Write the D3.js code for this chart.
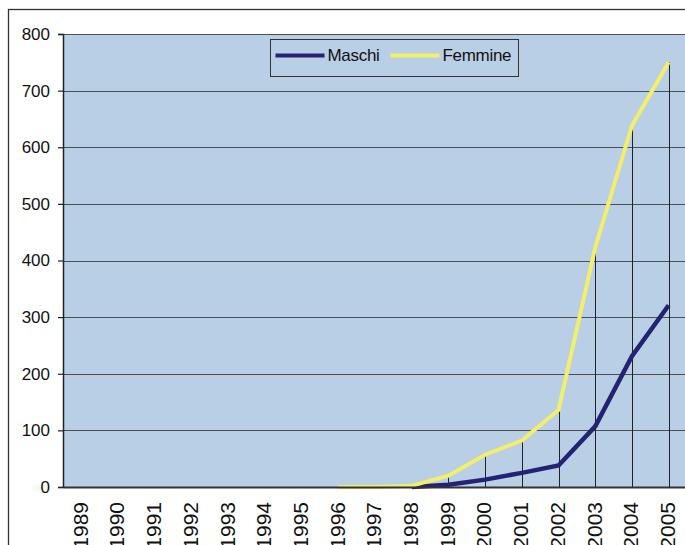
<!DOCTYPE html>
<html>
<head>
<meta charset="utf-8">
<script src="https://cdn.jsdelivr.net/npm/d3@7"></script>
<style>
  body { margin: 0; background: #fff; }
  svg { display: block; font-family: Arial, "Liberation Sans", sans-serif; }
</style>
</head>
<body>
<script>
var years = ["1989", "1990", "1991", "1992", "1993", "1994", "1995", "1996", "1997",
             "1998", "1999", "2000", "2001", "2002", "2003", "2004", "2005"];
// null = no value plotted for that year
var maschi = [null, null, null, null, null, null, null, null, null,
              0, 4, 13, 25, 38, 107, 231, 321];
var femmine = [null, null, null, null, null, null, null, 0, 0,
               2, 20, 57, 82, 136, 423, 638, 750];
var yTicks = [0, 100, 200, 300, 400, 500, 600, 700, 800];

var width = 685, height = 545;
var margin = {left: 63, top: 34, bottom: 58};
var plotRight = 687;

var svg = d3.select("body").append("svg")
    .attr("width", width)
    .attr("height", height);

// outer frame (runs off the right and bottom of the picture)
svg.append("rect")
    .attr("x", 8.5).attr("y", 9.5)
    .attr("width", 700).attr("height", 600)
    .attr("fill", "#fff")
    .attr("stroke", "#333")
    .attr("stroke-width", 1.3);

var x = d3.scaleBand()
    .domain(years)
    .range([margin.left, plotRight]);

var y = d3.scaleLinear()
    .domain([0, 800])
    .range([height - margin.bottom, margin.top]);

var cx = function (d) { return x(d) + x.bandwidth() / 2; };

svg.append("rect")
    .attr("x", margin.left).attr("y", margin.top)
    .attr("width", plotRight - margin.left)
    .attr("height", y(0) - margin.top)
    .attr("fill", "#b9cfe5");

// gridlines
svg.append("g")
    .selectAll("line")
    .data(yTicks.filter(function (d) { return d > 0; }))
    .enter().append("line")
    .attr("x1", margin.left).attr("x2", plotRight)
    .attr("y1", function (d) { return Math.round(y(d)) + 0.5; })
    .attr("y2", function (d) { return Math.round(y(d)) + 0.5; })
    .attr("stroke", "#4a4f57")
    .attr("stroke-width", 1.2);

// drop lines from the top point of each year
var drops = years.map(function (yr, i) {
    var vals = [maschi[i], femmine[i]].filter(function (v) { return v !== null; });
    return {year: yr, v: vals.length ? d3.max(vals) : null};
}).filter(function (d) { return d.v !== null && d.year >= "1998"; });

svg.append("g")
    .selectAll("line")
    .data(drops)
    .enter().append("line")
    .attr("x1", function (d) { return Math.round(cx(d.year)) + 0.5; })
    .attr("x2", function (d) { return Math.round(cx(d.year)) + 0.5; })
    .attr("y1", function (d) { return y(d.v); })
    .attr("y2", y(0))
    .attr("stroke", "#222")
    .attr("stroke-width", 1);

var line = d3.line()
    .defined(function (d) { return d.v !== null; })
    .x(function (d) { return cx(d.year); })
    .y(function (d) { return y(d.v); });

function series(vals) {
    return years.map(function (yr, i) { return {year: yr, v: vals[i]}; });
}

svg.append("path")
    .datum(series(maschi))
    .attr("d", line)
    .attr("fill", "none")
    .attr("stroke", "#232372")
    .attr("stroke-width", 4.5);

svg.append("path")
    .datum(series(femmine))
    .attr("d", line)
    .attr("fill", "none")
    .attr("stroke", "#f3ef6b")
    .attr("stroke-width", 4);

// y axis
var yAxis = svg.append("g")
    .attr("transform", "translate(" + margin.left + ",0)")
    .call(d3.axisLeft(y).tickValues(yTicks).tickSize(5).tickPadding(8));
yAxis.select(".domain").attr("stroke", "#222").attr("stroke-width", 1.5);
yAxis.selectAll(".tick line").attr("stroke", "#222").attr("stroke-width", 1.2);
yAxis.selectAll("text").attr("font-size", 17).attr("fill", "#111")
    .attr("font-family", "Arial, 'Liberation Sans', sans-serif");

// x axis
var xAxis = svg.append("g")
    .attr("transform", "translate(0," + y(0) + ")")
    .call(d3.axisBottom(x).tickSize(0).tickPadding(0));
xAxis.select(".domain").attr("stroke", "#333").attr("stroke-width", 2);
xAxis.selectAll("text")
    .attr("font-size", 21).attr("fill", "#111")
    .attr("font-family", "Arial, 'Liberation Sans', sans-serif")
    .attr("transform", "rotate(-90)")
    .attr("x", -15).attr("y", -1).attr("dy", "0.35em")
    .style("text-anchor", "end");

// legend
var legend = svg.append("g").attr("transform", "translate(270.5,39.5)");
legend.append("rect")
    .attr("width", 248).attr("height", 37)
    .attr("fill", "#b9cfe5")
    .attr("stroke", "#333")
    .attr("stroke-width", 1);

var legendItems = [
    {name: "Maschi", color: "#232372", x: 5},
    {name: "Femmine", color: "#f3ef6b", x: 120}
];
var li = legend.selectAll(".item")
    .data(legendItems)
    .enter().append("g")
    .attr("class", "item")
    .attr("transform", function (d) { return "translate(" + d.x + ",16)"; });
li.append("line")
    .attr("x1", 0).attr("x2", 49)
    .attr("stroke", function (d) { return d.color; })
    .attr("stroke-width", 4);
li.append("text")
    .attr("x", 52).attr("dy", "0.35em")
    .attr("font-size", 17)
    .attr("letter-spacing", -0.3)
    .attr("fill", "#111")
    .text(function (d) { return d.name; });
</script>
</body>
</html>
